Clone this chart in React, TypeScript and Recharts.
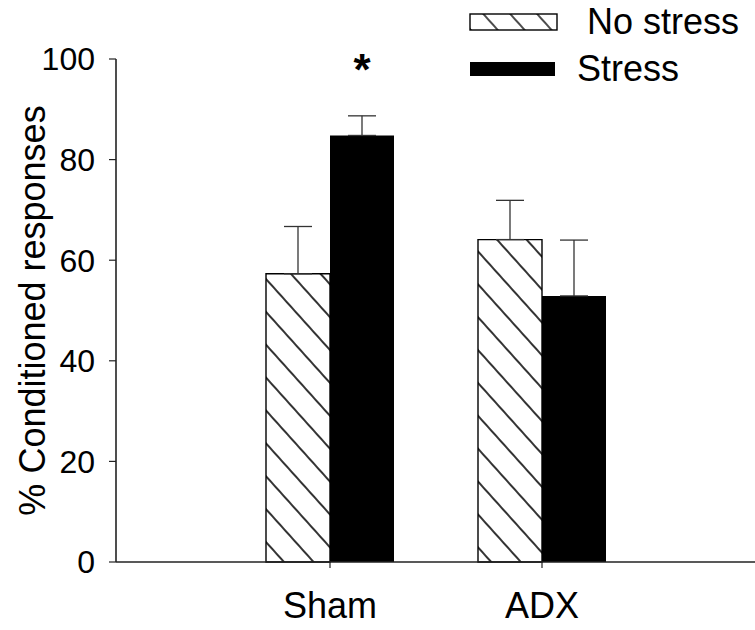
import React from 'react';
import { BarChart, Bar, XAxis, YAxis, ErrorBar, Legend, LabelList } from 'recharts';

const groups = ['Sham', 'ADX'];
const noStress = [57.3, 64.1];
const noStressErr = [9.4, 7.8];
const stress = [84.8, 52.9];
const stressErr = [3.9, 11.1];
const significance = ['*', ''];
const yTicks = [0, 20, 40, 60, 80, 100];
const seriesNames = ['No stress', 'Stress'];
const yTitle = '% Conditioned responses';

const data = groups.map((g, i) => ({
  group: g,
  noStress: noStress[i],
  noStressErr: [0, noStressErr[i]],
  stress: stress[i],
  stressErr: [0, stressErr[i]],
  sig: significance[i],
}));

const FONT = '"Liberation Sans", Arial, sans-serif';

const renderLegend = () => (
  <div style={{ position: 'relative', width: 755, height: 0, fontFamily: FONT, fontSize: 36, color: '#000' }}>
    <svg width={90} height={20} style={{ position: 'absolute', left: 469, top: 13 }}>
      <defs>
        <pattern id="hatchLegend" patternUnits="userSpaceOnUse" width="20" height="20" patternTransform="rotate(-42)">
          <line x1="10" y1="0" x2="10" y2="20" stroke="#000" strokeWidth="1.4" />
        </pattern>
      </defs>
      <rect x={1} y={1} width={87} height={16} fill="url(#hatchLegend)" stroke="#000" strokeWidth={1.4} />
    </svg>
    <div style={{ position: 'absolute', left: 587, top: 4, lineHeight: '36px', whiteSpace: 'nowrap' }}>{seriesNames[0]}</div>
    <svg width={90} height={20} style={{ position: 'absolute', left: 470, top: 62 }}>
      <rect x={0} y={0} width={85} height={14} fill="#000" />
    </svg>
    <div style={{ position: 'absolute', left: 577, top: 51, lineHeight: '36px', whiteSpace: 'nowrap' }}>{seriesNames[1]}</div>
  </div>
);

const renderStar = (props: any) => {
  const { x, y, width, value } = props;
  if (!value) return null;
  return (
    <text x={x + width / 2} y={y - 50} textAnchor="middle" fontFamily={FONT} fontWeight="bold" fontSize={44} fill="#000">
      {value}
    </text>
  );
};

export default function App() {
  return (
    <div style={{ position: 'absolute', left: 0, top: 0 }}>
      <BarChart
        width={755}
        height={630}
        data={data}
        margin={{ top: 59, right: 0, bottom: 0, left: 0 }}
        barGap={0}
        barSize={64}
      >
        <defs>
          <pattern id="hatch" patternUnits="userSpaceOnUse" width="22" height="22" patternTransform="rotate(-42)">
            <line x1="11" y1="0" x2="11" y2="22" stroke="#000" strokeWidth="1.6" />
          </pattern>
        </defs>
        <XAxis
          dataKey="group"
          height={68}
          padding={{ left: 108, right: 107 }}
          axisLine={{ stroke: '#222', strokeWidth: 1.6 }}
          tickLine={{ stroke: '#222', strokeWidth: 1.2 }}
          tickSize={6}
          tickMargin={24}
          tick={{ fill: '#000', fontSize: 36, fontFamily: FONT }}
        />
        <YAxis
          width={116}
          domain={[0, 100]}
          ticks={yTicks}
          interval={0}
          axisLine={{ stroke: '#222', strokeWidth: 1.6 }}
          tickLine={{ stroke: '#222', strokeWidth: 1.2 }}
          tickSize={7}
          tickMargin={14}
          tick={{ fill: '#000', fontSize: 32, fontFamily: FONT }}
          label={{
            value: yTitle,
            angle: -90,
            position: 'insideLeft',
            offset: 32,
            style: { textAnchor: 'middle', fontSize: 36, fontFamily: FONT, fill: '#000' },
          }}
        />
        <Legend verticalAlign="top" wrapperStyle={{ position: 'absolute', top: 0, left: 0, width: 755, height: 0 }} content={renderLegend} />
        <Bar dataKey="noStress" name={seriesNames[0]} fill="url(#hatch)" stroke="#000" strokeWidth={1.4} isAnimationActive={false}>
          <ErrorBar dataKey="noStressErr" width={14} stroke="#333" strokeWidth={1.3} direction="y" />
        </Bar>
        <Bar dataKey="stress" name={seriesNames[1]} fill="#000" isAnimationActive={false}>
          <ErrorBar dataKey="stressErr" width={14} stroke="#333" strokeWidth={1.3} direction="y" />
          <LabelList dataKey="sig" content={renderStar} />
        </Bar>
      </BarChart>
    </div>
  );
}
